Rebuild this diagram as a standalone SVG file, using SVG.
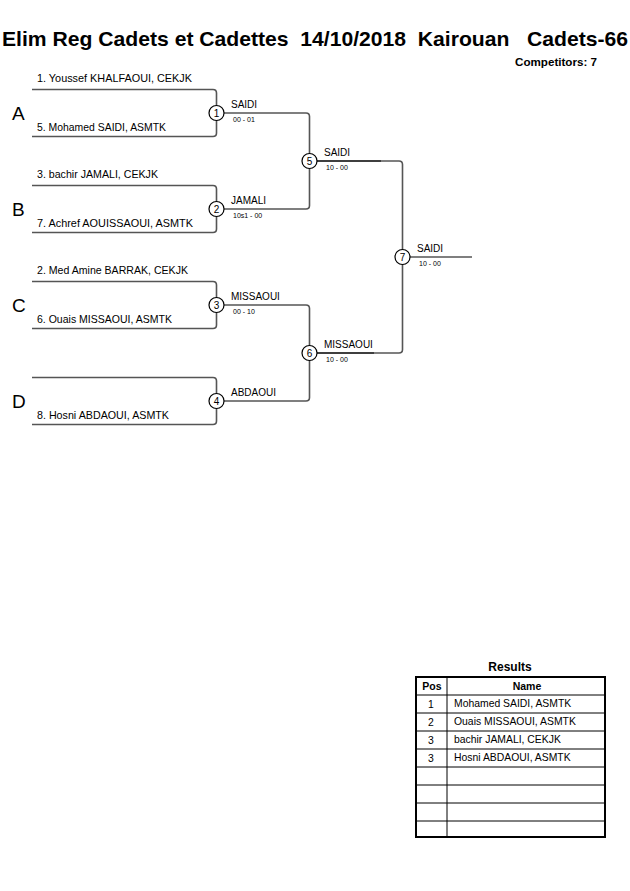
<svg xmlns="http://www.w3.org/2000/svg" width="630" height="891" viewBox="0 0 630 891">
<style>
text{font-family:"Liberation Sans",Arial,sans-serif;fill:#000}
.br{fill:none;stroke:#555;stroke-width:1.6}
.bk{fill:none;stroke:#000;stroke-width:1.2}
.c{fill:#fff;stroke:#000;stroke-width:1.2}
.n{font-size:10.5px}
.w{font-size:10px}
.s{font-size:7px}
.cn{font-size:10px;text-anchor:middle}
.L{font-size:19px}
.t{font-size:10.4px}
</style>
<rect width="630" height="891" fill="#fff"/>
<text x="2" y="46" font-size="20.5" font-weight="bold" xml:space="preserve" textLength="626" lengthAdjust="spacingAndGlyphs">Elim Reg Cadets et Cadettes  14/10/2018  Kairouan   Cadets-66</text>
<text x="515" y="66" font-size="11" font-weight="bold" textLength="82" lengthAdjust="spacingAndGlyphs">Competitors: 7</text>
<g id="connectors">
<path class="br" d="M32 89.5H213Q216.5 89.5 216.5 93V133Q216.5 136.5 213 136.5H32"/>
<path class="br" d="M32 185.5H213Q216.5 185.5 216.5 189V229Q216.5 232.5 213 232.5H32"/>
<path class="br" d="M32 281.5H213Q216.5 281.5 216.5 285V325Q216.5 328.5 213 328.5H32"/>
<path class="br" d="M32 377.5H213Q216.5 377.5 216.5 381V421Q216.5 424.5 213 424.5H32"/>
<path class="br" d="M224 113H306Q309.5 113 309.5 116.5V205.5Q309.5 209 306 209H224"/>
<path class="br" d="M224 305H306Q309.5 305 309.5 308.5V397.5Q309.5 401 306 401H224"/>
<path class="br" d="M317 161H399Q402.5 161 402.5 164.5V349.5Q402.5 353 399 353H317"/>
<path class="bk" d="M317 161H381"/>
<path class="bk" d="M317 353H374"/>
<path class="bk" d="M410 257H472"/>
</g>
<g id="poolA"><text class="L" x="12" y="120">A</text>
<text class="n" x="37" y="82" textLength="155" lengthAdjust="spacingAndGlyphs">1. Youssef KHALFAOUI, CEKJK</text>
<text class="n" x="37" y="131" textLength="129" lengthAdjust="spacingAndGlyphs">5. Mohamed SAIDI, ASMTK</text></g>
<g id="poolB"><text class="L" x="12" y="216">B</text>
<text class="n" x="37" y="178" textLength="121" lengthAdjust="spacingAndGlyphs">3. bachir JAMALI, CEKJK</text>
<text class="n" x="37" y="227" textLength="156" lengthAdjust="spacingAndGlyphs">7. Achref AOUISSAOUI, ASMTK</text></g>
<g id="poolC"><text class="L" x="12" y="312">C</text>
<text class="n" x="37" y="274" textLength="151" lengthAdjust="spacingAndGlyphs">2. Med Amine BARRAK, CEKJK</text>
<text class="n" x="37" y="323" textLength="135" lengthAdjust="spacingAndGlyphs">6. Ouais MISSAOUI, ASMTK</text></g>
<g id="poolD"><text class="L" x="12" y="408">D</text>
<text class="n" x="37" y="419" textLength="132" lengthAdjust="spacingAndGlyphs">8. Hosni ABDAOUI, ASMTK</text></g>
<g id="m1"><circle class="c" cx="216.5" cy="113" r="7.5"/><text class="cn" x="216.5" y="116.5">1</text>
<text class="w" x="231" y="108">SAIDI</text><text class="s" x="233" y="122">00 - 01</text></g>
<g id="m2"><circle class="c" cx="216.5" cy="209" r="7.5"/><text class="cn" x="216.5" y="212.5">2</text>
<text class="w" x="231" y="204">JAMALI</text><text class="s" x="233" y="218">10s1 - 00</text></g>
<g id="m3"><circle class="c" cx="216.5" cy="305" r="7.5"/><text class="cn" x="216.5" y="308.5">3</text>
<text class="w" x="231" y="300">MISSAOUI</text><text class="s" x="233" y="314">00 - 10</text></g>
<g id="m4"><circle class="c" cx="216.5" cy="401" r="7.5"/><text class="cn" x="216.5" y="404.5">4</text>
<text class="w" x="231" y="396">ABDAOUI</text></g>
<g id="m5"><circle class="c" cx="309.5" cy="161" r="7.5"/><text class="cn" x="309.5" y="164.5">5</text>
<text class="w" x="324" y="156">SAIDI</text><text class="s" x="326" y="170">10 - 00</text></g>
<g id="m6"><circle class="c" cx="309.5" cy="353" r="7.5"/><text class="cn" x="309.5" y="356.5">6</text>
<text class="w" x="324" y="348">MISSAOUI</text><text class="s" x="326" y="362">10 - 00</text></g>
<g id="m7"><circle class="c" cx="402.5" cy="257" r="7.5"/><text class="cn" x="402.5" y="260.5">7</text>
<text class="w" x="417" y="252">SAIDI</text><text class="s" x="419" y="266">10 - 00</text></g>
<g id="results">
<text x="510" y="671" font-size="12" font-weight="bold" text-anchor="middle">Results</text>
<g fill="none" stroke="#000" stroke-width="1">
<path d="M416 695H605M416 713H605M416 731H605M416 749H605M416 767H605M416 785H605M416 803H605M416 821H605M447 677V837"/>
</g>
<rect x="416" y="677" width="189" height="160" fill="none" stroke="#000" stroke-width="2"/>
<text x="432" y="690" font-size="10.5" font-weight="bold" text-anchor="middle">Pos</text>
<text x="527" y="690" font-size="10.5" font-weight="bold" text-anchor="middle">Name</text>
<text class="t" x="431" y="708" text-anchor="middle">1</text><text class="t" x="454" y="707">Mohamed SAIDI, ASMTK</text>
<text class="t" x="431" y="726" text-anchor="middle">2</text><text class="t" x="454" y="725">Ouais MISSAOUI, ASMTK</text>
<text class="t" x="431" y="744" text-anchor="middle">3</text><text class="t" x="454" y="743">bachir JAMALI, CEKJK</text>
<text class="t" x="431" y="762" text-anchor="middle">3</text><text class="t" x="454" y="761">Hosni ABDAOUI, ASMTK</text>
</g>
</svg>
